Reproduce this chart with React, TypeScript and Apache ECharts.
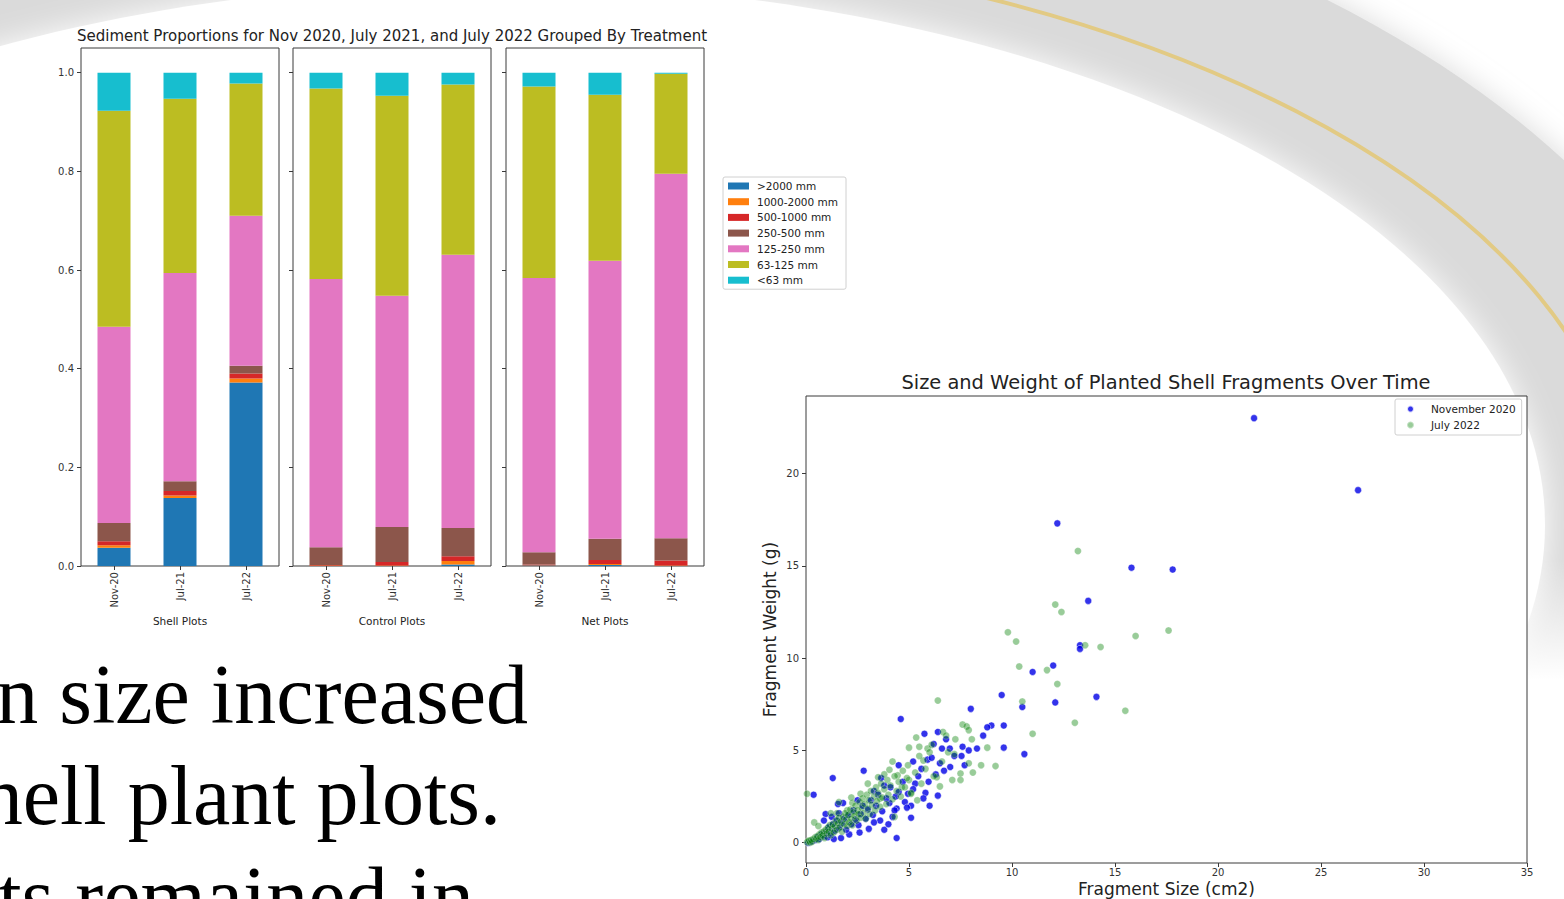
import React, { useEffect, useRef } from "react";
import * as echarts from "echarts";

// ---------- Bar chart data ----------
const dates = ["Nov-20", "Jul-21", "Jul-22"];
const treatments = ["Shell Plots", "Control Plots", "Net Plots"];
const sizeClasses = [">2000 mm", "1000-2000 mm", "500-1000 mm", "250-500 mm", "125-250 mm", "63-125 mm", "<63 mm"];
// order: Shell (Nov-20, Jul-21, Jul-22), Control (...), Net (...)
const over2000 = [0.037, 0.138, 0.372, 0.0, 0.0, 0.003, 0.001, 0.002, 0.0];
const s1000to2000 = [0.005, 0.005, 0.008, 0.001, 0.001, 0.007, 0.0005, 0.002, 0.001];
const s500to1000 = [0.008, 0.009, 0.010, 0.001, 0.007, 0.010, 0.0015, 0.008, 0.010];
const s250to500 = [0.037, 0.020, 0.016, 0.036, 0.071, 0.057, 0.025, 0.043, 0.045];
const s125to250 = [0.398, 0.422, 0.304, 0.544, 0.469, 0.554, 0.556, 0.564, 0.739];
const s63to125 = [0.438, 0.353, 0.268, 0.386, 0.405, 0.345, 0.388, 0.336, 0.203];
const under63 = [0.077, 0.053, 0.022, 0.032, 0.047, 0.024, 0.028, 0.045, 0.002];
const classValues = [over2000, s1000to2000, s500to1000, s250to500, s125to250, s63to125, under63];
const classColors = ["#1f77b4", "#ff7f0e", "#d62728", "#8c564b", "#e377c2", "#bcbd22", "#17becf"];
const barYTicks = [0, 0.2, 0.4, 0.6, 0.8, 1.0];

// ---------- Scatter data ----------
const scatterNames = ["November 2020", "July 2022"];
const nov2020: number[][] = [
  [21.75, 23.0], [26.8, 19.1], [12.2, 17.3], [15.8, 14.9], [17.8, 14.8], [13.7, 13.1], [13.3, 10.7], [13.3, 10.5],
  [12.0, 9.6], [11.0, 9.25], [9.5, 8.0], [14.1, 7.9], [12.1, 7.6], [10.5, 7.35], [8.0, 7.25], [4.6, 6.7],
  [9.6, 6.35], [9.0, 6.35], [8.8, 6.25], [6.4, 6.0], [5.75, 5.9], [6.2, 5.35], [7.6, 5.2], [9.6, 5.15],
  [8.3, 5.1], [6.98, 5.1], [6.6, 5.1], [10.6, 4.8], [7.55, 4.7], [5.9, 4.5], [6.5, 4.3], [4.5, 4.2],
  [7.7, 4.2], [7.0, 4.1], [5.6, 4.0], [2.8, 3.9], [6.3, 3.7], [1.3, 3.5], [3.65, 3.5], [5.95, 3.3],
  [5.3, 3.2], [3.8, 3.1], [3.3, 2.8], [4.5, 2.75], [5.8, 2.7], [4.95, 2.65], [0.37, 2.6], [6.4, 2.55],
  [2.5, 2.3], [4.8, 2.2], [1.8, 2.15], [4.05, 2.15], [1.55, 2.1], [5.1, 2.0], [6.0, 2.0], [4.4, 1.85],
  [4.3, 1.75], [1.6, 1.6], [0.95, 1.55], [1.25, 1.4], [5.1, 1.35], [3.6, 1.2], [0.87, 1.2], [3.05, 0.75],
  [3.8, 0.7], [2.1, 0.45], [1.7, 0.25], [4.4, 0.25], [1.35, 0.2],
  [0.1, 0.0], [0.2, 0.05], [0.3, 0.1], [0.45, 0.15], [0.55, 0.3], [0.65, 0.2], [0.75, 0.45], [0.85, 0.35],
  [1.0, 0.6], [1.05, 0.3], [1.1, 0.85], [1.2, 0.5], [1.3, 1.0], [1.4, 0.65], [1.5, 1.2], [1.6, 0.8],
  [1.75, 1.05], [1.85, 1.3], [1.95, 0.7], [2.05, 1.5], [2.2, 1.0], [2.3, 1.75], [2.4, 1.25], [2.55, 0.95],
  [2.65, 1.55], [2.75, 2.0], [2.9, 1.3], [3.0, 1.8], [3.15, 2.3], [3.25, 1.5], [3.4, 2.0], [3.5, 2.6],
  [3.7, 1.7], [3.9, 2.4], [4.1, 3.0], [4.2, 1.4], [4.35, 2.5], [4.7, 3.3], [4.9, 1.9], [5.2, 2.9],
  [5.45, 3.6], [5.7, 2.4], [6.1, 4.6], [6.7, 3.9], [7.2, 4.7], [7.9, 5.0], [8.6, 5.8], [6.8, 5.6],
  [5.2, 4.4], [4.0, 1.0], [2.6, 0.55], [3.3, 1.1],
];
const jul2022: number[][] = [
  [13.2, 15.8], [12.1, 12.9], [12.4, 12.5], [9.8, 11.4], [17.6, 11.5], [16.0, 11.2], [10.2, 10.9], [13.55, 10.7],
  [14.3, 10.6], [10.35, 9.55], [11.7, 9.35], [12.2, 8.6], [6.4, 7.7], [10.5, 7.65], [15.5, 7.15], [13.05, 6.5],
  [7.6, 6.4], [7.8, 6.3], [7.9, 6.1], [6.65, 6.0], [11.0, 5.9], [6.8, 5.8], [5.35, 5.7], [7.25, 5.6],
  [8.05, 5.6], [5.5, 5.2], [5.0, 5.15], [8.8, 5.15], [5.9, 5.1], [7.2, 4.8], [5.7, 4.45], [7.9, 4.3],
  [8.5, 4.2], [4.95, 4.2], [9.2, 4.15], [4.05, 3.95], [8.1, 3.8], [7.5, 3.75], [4.45, 3.65], [3.5, 3.55],
  [6.35, 3.55], [5.0, 3.4], [7.1, 3.4], [7.5, 3.4], [3.0, 3.2], [6.5, 3.05], [4.65, 3.0], [0.05, 2.65],
  [2.65, 2.65], [5.1, 2.65], [3.6, 2.4], [5.4, 2.3], [1.6, 2.2], [2.25, 2.15], [2.0, 1.75], [1.5, 1.6],
  [4.3, 1.4], [0.4, 1.1],
  [0.05, 0.02], [0.1, 0.08], [0.15, 0.12], [0.2, 0.0], [0.25, 0.15], [0.3, 0.05], [0.35, 0.2], [0.45, 0.3],
  [0.5, 0.2], [0.55, 0.35], [0.6, 0.15], [0.65, 0.45], [0.7, 0.3], [0.75, 0.55], [0.8, 0.4], [0.85, 0.6],
  [0.9, 0.25], [0.95, 0.7], [1.0, 0.5], [1.05, 0.8], [1.1, 0.6], [1.15, 0.95], [1.2, 0.4], [1.25, 0.75],
  [1.3, 1.0], [1.35, 0.55], [1.4, 0.9], [1.45, 1.2], [1.5, 0.7], [1.55, 1.05], [1.6, 1.35], [1.65, 0.85],
  [1.7, 1.15], [1.75, 0.6], [1.8, 1.4], [1.85, 1.0], [1.9, 1.6], [1.95, 1.25], [2.0, 0.9], [2.05, 1.5],
  [2.1, 1.1], [2.15, 1.8], [2.2, 1.3], [2.25, 0.95], [2.3, 1.65], [2.35, 1.45], [2.4, 2.0], [2.45, 1.2],
  [2.5, 1.75], [2.55, 1.55], [2.6, 2.2], [2.65, 1.35], [2.7, 1.9], [2.75, 2.4], [2.8, 1.6], [2.85, 2.1],
  [2.9, 1.3], [2.95, 2.6], [3.0, 1.85], [3.05, 2.3], [3.1, 1.55], [3.15, 2.8], [3.2, 2.05], [3.3, 2.5],
  [3.35, 1.75], [3.4, 3.0], [3.45, 2.25], [3.5, 2.7], [3.6, 1.95], [3.65, 3.2], [3.7, 2.45], [3.8, 2.9],
  [3.9, 2.1], [3.95, 3.4], [4.0, 2.6], [4.1, 3.1], [4.2, 2.35], [4.3, 3.6], [4.4, 2.8], [4.5, 3.3],
  [4.6, 2.5], [4.7, 3.9], [4.8, 3.0], [4.9, 3.5], [5.1, 2.7], [5.3, 3.8], [5.6, 3.2], [5.8, 4.0],
  [6.0, 4.9], [6.2, 3.6], [6.1, 5.3], [5.5, 4.7], [6.6, 4.4], [6.9, 4.9], [4.2, 4.4], [3.8, 3.7],
  [2.2, 2.45], [1.2, 1.6], [0.6, 0.9],
];
const scatterXTicks = { min: 0, max: 35, interval: 5 };
const scatterYTicks = [0, 5, 10, 15, 20];

// ---------- Slide text ----------
const slideLines = ["n size increased", "hell plant plots.", "ts remained in"];

const SANS = "'DejaVu Sans', sans-serif";
const AXIS_COLOR = "#3a3a3a";

export default function App() {
  const ref = useRef<HTMLDivElement>(null);

  useEffect(() => {
    if (!ref.current) return;
    const chart = echarts.init(ref.current, null, { renderer: "svg" });

    const barGridLefts = [81, 293, 506];
    const grids: any[] = barGridLefts.map((l) => ({
      left: l, top: 48, width: 198, height: 518, outerBoundsMode: "none", containLabel: false,
      show: true, borderColor: AXIS_COLOR, borderWidth: 1, backgroundColor: "#fff",
    }));
    grids.push({
      left: 806, top: 396, width: 721, height: 467, outerBoundsMode: "none", containLabel: false,
      show: true, borderColor: AXIS_COLOR, borderWidth: 1, backgroundColor: "#fff",
    });

    const xAxes: any[] = treatments.map((t, i) => ({
      type: "category", gridIndex: i, data: dates,
      axisLine: { show: false, onZero: false },
      axisTick: { show: true, alignWithLabel: true, length: 4, lineStyle: { color: AXIS_COLOR } },
      axisLabel: { rotate: 90, fontSize: 10, color: "#333", margin: 6, fontFamily: SANS },
      name: t, nameLocation: "middle", nameGap: 49,
      nameTextStyle: { fontSize: 10.5, color: "#222", fontFamily: SANS },
    }));
    xAxes.push({
      type: "value", gridIndex: 3, ...scatterXTicks,
      axisLine: { show: false, onZero: false }, splitLine: { show: false },
      axisTick: { show: true, length: 4, lineStyle: { color: AXIS_COLOR } },
      axisLabel: { fontSize: 10, color: "#333", margin: 4, fontFamily: SANS },
      name: "Fragment Size (cm2)", nameLocation: "middle", nameGap: 17, nameMoveOverlap: false,
      nameTextStyle: { fontSize: 17, color: "#222", fontFamily: SANS },
    });

    const yAxes: any[] = treatments.map((_, i) => ({
      type: "value", gridIndex: i, min: 0, max: 1.05,
      axisLine: { show: false, onZero: false }, splitLine: { show: false },
      axisTick: { show: true, length: 4, customValues: barYTicks, lineStyle: { color: AXIS_COLOR } },
      axisLabel: {
        show: i === 0, customValues: barYTicks, fontSize: 10, color: "#333", margin: 7, fontFamily: SANS,
        formatter: (v: number) => v.toFixed(1),
      },
    }));
    yAxes.push({
      type: "value", gridIndex: 3, min: -1.1, max: 24.2,
      axisLine: { show: false, onZero: false }, splitLine: { show: false },
      axisTick: { show: true, length: 4, customValues: scatterYTicks, lineStyle: { color: AXIS_COLOR } },
      axisLabel: { customValues: scatterYTicks, fontSize: 10, color: "#333", margin: 7, fontFamily: SANS },
      name: "Fragment Weight (g)", nameLocation: "middle", nameGap: 28, nameRotate: 90,
      nameTextStyle: { fontSize: 17, color: "#222", fontFamily: SANS },
    });

    const series: any[] = [];
    sizeClasses.forEach((name, c) => {
      treatments.forEach((_, p) => {
        series.push({
          type: "bar", name, xAxisIndex: p, yAxisIndex: p, stack: "panel" + p,
          barWidth: "50%",
          data: classValues[c].slice(p * 3, p * 3 + 3),
          itemStyle: { color: classColors[c] },
        });
      });
    });
    series.push({
      type: "scatter", name: scatterNames[0], xAxisIndex: 3, yAxisIndex: 3,
      data: nov2020, symbolSize: 7,
      itemStyle: { color: "#0000e6", borderColor: "#ffffff", borderWidth: 0.6 },
    });
    series.push({
      type: "scatter", name: scatterNames[1], xAxisIndex: 3, yAxisIndex: 3,
      data: jul2022, symbolSize: 7,
      itemStyle: { color: "rgba(0,128,0,0.5)", borderColor: "rgba(255,255,255,0.5)", borderWidth: 0.6 },
    });

    const fade = new echarts.graphic.LinearGradient(0, 0, 0, 1, [
      { offset: 0, color: "rgba(255,255,255,0)" },
      { offset: 1, color: "rgba(255,255,255,1)" },
    ]);

    chart.setOption({
      animation: false,
      backgroundColor: "#fff",
      grid: grids,
      xAxis: xAxes,
      yAxis: yAxes,
      legend: [
        {
          data: sizeClasses, orient: "vertical", left: 723, top: 177,
          itemWidth: 21, itemHeight: 7, itemGap: 3.7, icon: "rect",
          padding: [3, 8, 3, 5], borderColor: "#d0d0d0", borderWidth: 1, borderRadius: 2,
          backgroundColor: "#fff",
          textStyle: { fontSize: 10.5, lineHeight: 12, color: "#222", fontFamily: SANS, padding: [0, 0, 0, 3] },
        },
        {
          data: scatterNames, orient: "vertical", left: 1395, top: 399,
          itemWidth: 7, itemHeight: 7, itemGap: 4,
          padding: [4, 6, 4, 11], borderColor: "#d0d0d0", borderWidth: 1, borderRadius: 2,
          backgroundColor: "#fff",
          textStyle: { fontSize: 10.5, lineHeight: 12, color: "#222", fontFamily: SANS, padding: [0, 0, 0, 12] },
        },
      ],
      graphic: [
        // gray decorative band (outer gray ellipse, inner white ellipse)
        {
          type: "ellipse", z: -100, silent: true,
          shape: { cx: 493, cy: 525, rx: 1252, ry: 704 },
          style: { fill: "#dadada", shadowBlur: 30, shadowColor: "#dadada" },
        },
        {
          type: "ellipse", z: -99, silent: true,
          shape: { cx: 493, cy: 525, rx: 1052, ry: 542 },
          style: { fill: "#ffffff", shadowBlur: 30, shadowColor: "#ffffff" },
        },
        {
          type: "ellipse", z: -98, silent: true,
          shape: { cx: 493, cy: 525, rx: 1136, ry: 585 },
          style: { fill: "none", stroke: "#e2ca84", lineWidth: 4 },
        },
        // white figure background below the scatter plot area
        {
          type: "rect", z: -97, silent: true,
          shape: { x: 740, y: 560, width: 824, height: 120 },
          style: { fill: fade },
        },
        {
          type: "rect", z: -97, silent: true,
          shape: { x: 740, y: 680, width: 824, height: 219 },
          style: { fill: "#ffffff" },
        },
        {
          type: "text", x: 392, y: 36, z: 50,
          style: {
            text: "Sediment Proportions for Nov 2020, July 2021, and July 2022 Grouped By Treatment",
            fontSize: 15, fontFamily: SANS, fill: "#222", align: "center", verticalAlign: "middle",
          },
        },
        {
          type: "text", x: 1166, y: 382, z: 50,
          style: {
            text: "Size and Weight of Planted Shell Fragments Over Time",
            fontSize: 19.4, fontFamily: SANS, fill: "#222", align: "center", verticalAlign: "middle",
          },
        },
        ...slideLines.map((t, i) => ({
          type: "text", x: [528, 501, 474][i], y: [694, 795, 896][i], z: 50,
          style: {
            text: t, fontSize: 84, fontFamily: "'Liberation Serif', 'Times New Roman', serif",
            fill: "#000", align: "right", verticalAlign: "middle",
          },
        })),
      ],
      series,
    });

    return () => chart.dispose();
  }, []);

  return (
    <div
      ref={ref}
      style={{ position: "absolute", left: 0, top: 0, width: 1564, height: 899, background: "#fff", overflow: "hidden" }}
    />
  );
}
